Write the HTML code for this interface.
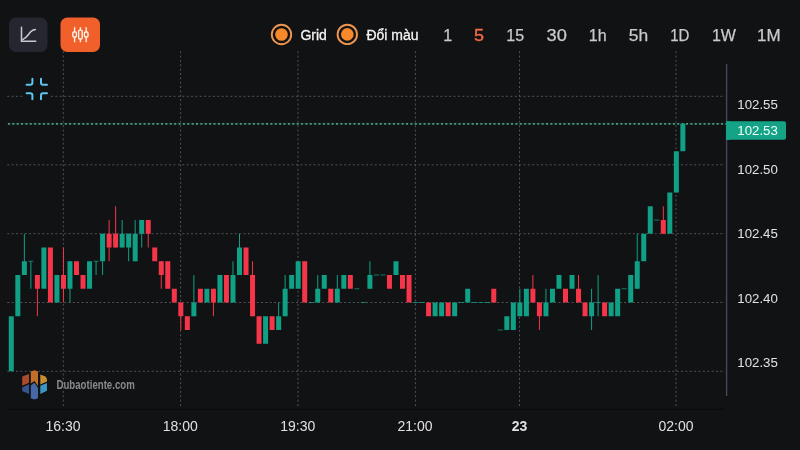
<!DOCTYPE html>
<html><head><meta charset="utf-8">
<style>
html,body{margin:0;padding:0;background:#111214;width:800px;height:450px;overflow:hidden;}
svg{position:absolute;left:0;top:0;will-change:transform;}
text{font-family:"Liberation Sans",sans-serif;}
</style></head>
<body>
<svg width="800" height="450" viewBox="0 0 800 450">
<!-- grid -->
<g stroke="#505258" stroke-width="1" stroke-dasharray="2 2.375" fill="none">
<line x1="7.25" y1="96.3" x2="725" y2="96.3" />
<line x1="7.25" y1="164.8" x2="725" y2="164.8" />
<line x1="7.25" y1="233.7" x2="725" y2="233.7" />
<line x1="7.25" y1="302.5" x2="725" y2="302.5" />
<line x1="7.25" y1="371.3" x2="725" y2="371.3" />
<line x1="63.3" y1="51.2" x2="63.3" y2="406" stroke-dasharray="2 2.355" />
<line x1="180.6" y1="51.2" x2="180.6" y2="406" stroke-dasharray="2 2.355" />
<line x1="298" y1="51.2" x2="298" y2="406" stroke-dasharray="2 2.355" />
<line x1="415.4" y1="51.2" x2="415.4" y2="406" stroke-dasharray="2 2.355" />
<line x1="519.5" y1="51.2" x2="519.5" y2="406" stroke-dasharray="2 2.355" />
<line x1="676" y1="51.2" x2="676" y2="406" stroke-dasharray="2 2.355" />
</g>
<!-- separator -->
<rect x="8" y="408.8" width="717" height="1" fill="#08090b"/>
<!-- axis line -->
<rect x="725.9" y="64" width="1.4" height="332" fill="#45455f"/>
<!-- price line -->
<rect x="8" y="122.6" width="718" height="2.4" fill="#0c241e"/>
<line x1="7.9" y1="123.8" x2="726" y2="123.8" stroke="#7dbfa8" stroke-width="1.2" stroke-dasharray="2 2.375"/>
<!-- candles -->
<g>
<rect x="8.80" y="316.25" width="5.0" height="55.00" fill="#0fa085"/>
<rect x="15.32" y="275.00" width="5.0" height="41.25" fill="#0fa085"/>
<rect x="23.84" y="233.75" width="1" height="41.25" fill="#0fa085"/>
<rect x="21.84" y="261.25" width="5.0" height="13.75" fill="#0fa085"/>
<rect x="30.36" y="261.25" width="1" height="27.50" fill="#0fa085"/>
<rect x="28.36" y="260.75" width="5.0" height="1" fill="#0fa085" opacity="0.75"/>
<rect x="36.88" y="275.00" width="1" height="41.25" fill="#f5364a"/>
<rect x="34.88" y="275.00" width="5.0" height="13.75" fill="#f5364a"/>
<rect x="41.40" y="247.50" width="5.0" height="41.25" fill="#0fa085"/>
<rect x="47.92" y="247.50" width="5.0" height="55.00" fill="#f5364a"/>
<rect x="54.44" y="275.00" width="5.0" height="27.50" fill="#0fa085"/>
<rect x="62.96" y="247.50" width="1" height="55.00" fill="#f5364a"/>
<rect x="60.96" y="275.00" width="5.0" height="13.75" fill="#f5364a"/>
<rect x="69.48" y="261.25" width="1" height="41.25" fill="#0fa085"/>
<rect x="67.48" y="261.25" width="5.0" height="27.50" fill="#0fa085"/>
<rect x="74.00" y="261.25" width="5.0" height="13.75" fill="#f5364a"/>
<rect x="80.52" y="275.00" width="5.0" height="13.75" fill="#f5364a"/>
<rect x="87.04" y="261.25" width="5.0" height="27.50" fill="#0fa085"/>
<rect x="95.56" y="261.25" width="1" height="13.75" fill="#0fa085"/>
<rect x="93.56" y="260.75" width="5.0" height="1" fill="#0fa085" opacity="0.75"/>
<rect x="102.08" y="233.75" width="1" height="41.25" fill="#0fa085"/>
<rect x="100.08" y="233.75" width="5.0" height="27.50" fill="#0fa085"/>
<rect x="108.60" y="220.00" width="1" height="41.25" fill="#f5364a"/>
<rect x="106.60" y="233.75" width="5.0" height="13.75" fill="#f5364a"/>
<rect x="115.12" y="206.25" width="1" height="41.25" fill="#f5364a"/>
<rect x="113.12" y="233.75" width="5.0" height="13.75" fill="#f5364a"/>
<rect x="121.64" y="220.00" width="1" height="27.50" fill="#0fa085"/>
<rect x="119.64" y="233.75" width="5.0" height="13.75" fill="#0fa085"/>
<rect x="128.16" y="233.75" width="1" height="27.50" fill="#0fa085"/>
<rect x="126.16" y="233.75" width="5.0" height="13.75" fill="#0fa085"/>
<rect x="134.68" y="220.00" width="1" height="41.25" fill="#0fa085"/>
<rect x="132.68" y="233.75" width="5.0" height="27.50" fill="#0fa085"/>
<rect x="141.20" y="220.00" width="1" height="27.50" fill="#0fa085"/>
<rect x="139.20" y="220.00" width="5.0" height="13.75" fill="#0fa085"/>
<rect x="147.72" y="220.00" width="1" height="27.50" fill="#f5364a"/>
<rect x="145.72" y="220.00" width="5.0" height="13.75" fill="#f5364a"/>
<rect x="152.24" y="247.50" width="5.0" height="13.75" fill="#f5364a"/>
<rect x="160.76" y="261.25" width="1" height="27.50" fill="#f5364a"/>
<rect x="158.76" y="261.25" width="5.0" height="13.75" fill="#f5364a"/>
<rect x="165.28" y="261.25" width="5.0" height="27.50" fill="#f5364a"/>
<rect x="171.80" y="288.75" width="5.0" height="13.75" fill="#f5364a"/>
<rect x="180.32" y="302.50" width="1" height="27.50" fill="#f5364a"/>
<rect x="178.32" y="302.50" width="5.0" height="13.75" fill="#f5364a"/>
<rect x="184.84" y="316.25" width="5.0" height="13.75" fill="#f5364a"/>
<rect x="193.36" y="275.00" width="1" height="41.25" fill="#0fa085"/>
<rect x="191.36" y="302.50" width="5.0" height="13.75" fill="#0fa085"/>
<rect x="197.88" y="288.75" width="5.0" height="13.75" fill="#f5364a"/>
<rect x="204.40" y="288.75" width="5.0" height="13.75" fill="#0fa085"/>
<rect x="212.92" y="288.75" width="1" height="27.50" fill="#f5364a"/>
<rect x="210.92" y="288.75" width="5.0" height="13.75" fill="#f5364a"/>
<rect x="217.44" y="275.00" width="5.0" height="27.50" fill="#0fa085"/>
<rect x="223.96" y="275.00" width="5.0" height="27.50" fill="#f5364a"/>
<rect x="232.48" y="261.25" width="1" height="41.25" fill="#0fa085"/>
<rect x="230.48" y="275.00" width="5.0" height="27.50" fill="#0fa085"/>
<rect x="239.00" y="233.75" width="1" height="41.25" fill="#0fa085"/>
<rect x="237.00" y="247.50" width="5.0" height="27.50" fill="#0fa085"/>
<rect x="243.52" y="247.50" width="5.0" height="27.50" fill="#f5364a"/>
<rect x="252.04" y="261.25" width="1" height="55.00" fill="#f5364a"/>
<rect x="250.04" y="275.00" width="5.0" height="41.25" fill="#f5364a"/>
<rect x="256.56" y="316.25" width="5.0" height="27.50" fill="#f5364a"/>
<rect x="263.08" y="316.25" width="5.0" height="27.50" fill="#0fa085"/>
<rect x="269.60" y="316.25" width="5.0" height="13.75" fill="#f5364a"/>
<rect x="278.12" y="302.50" width="1" height="27.50" fill="#0fa085"/>
<rect x="276.12" y="316.25" width="5.0" height="13.75" fill="#0fa085"/>
<rect x="284.64" y="275.00" width="1" height="41.25" fill="#0fa085"/>
<rect x="282.64" y="288.75" width="5.0" height="27.50" fill="#0fa085"/>
<rect x="289.16" y="275.00" width="5.0" height="13.75" fill="#0fa085"/>
<rect x="295.68" y="261.25" width="5.0" height="27.50" fill="#0fa085"/>
<rect x="302.20" y="261.25" width="5.0" height="41.25" fill="#f5364a"/>
<rect x="308.72" y="302.00" width="5.0" height="1" fill="#0fa085" opacity="0.75"/>
<rect x="317.24" y="275.00" width="1" height="27.50" fill="#0fa085"/>
<rect x="315.24" y="288.75" width="5.0" height="13.75" fill="#0fa085"/>
<rect x="321.76" y="275.00" width="5.0" height="13.75" fill="#0fa085"/>
<rect x="328.28" y="288.75" width="5.0" height="13.75" fill="#f5364a"/>
<rect x="336.80" y="275.00" width="1" height="27.50" fill="#0fa085"/>
<rect x="334.80" y="288.75" width="5.0" height="13.75" fill="#0fa085"/>
<rect x="341.32" y="275.00" width="5.0" height="13.75" fill="#0fa085"/>
<rect x="347.84" y="275.00" width="5.0" height="13.75" fill="#f5364a"/>
<rect x="354.36" y="288.25" width="5.0" height="1" fill="#0fa085" opacity="0.75"/>
<rect x="360.88" y="302.00" width="5.0" height="1" fill="#0fa085" opacity="0.75"/>
<rect x="369.40" y="261.25" width="1" height="27.50" fill="#0fa085"/>
<rect x="367.40" y="275.00" width="5.0" height="13.75" fill="#0fa085"/>
<rect x="373.92" y="274.50" width="5.0" height="1" fill="#0fa085" opacity="0.75"/>
<rect x="380.44" y="274.50" width="5.0" height="1" fill="#0fa085" opacity="0.75"/>
<rect x="386.96" y="275.00" width="5.0" height="13.75" fill="#f5364a"/>
<rect x="393.48" y="261.25" width="5.0" height="13.75" fill="#0fa085"/>
<rect x="400.00" y="275.00" width="5.0" height="13.75" fill="#f5364a"/>
<rect x="406.52" y="275.00" width="5.0" height="27.50" fill="#f5364a"/>
<rect x="413.04" y="302.00" width="5.0" height="1" fill="#0fa085" opacity="0.75"/>
<rect x="419.56" y="302.00" width="5.0" height="1" fill="#0fa085" opacity="0.75"/>
<rect x="426.08" y="302.50" width="5.0" height="13.75" fill="#f5364a"/>
<rect x="432.60" y="302.50" width="5.0" height="13.75" fill="#0fa085"/>
<rect x="439.12" y="302.50" width="5.0" height="13.75" fill="#0fa085"/>
<rect x="445.64" y="302.50" width="5.0" height="13.75" fill="#f5364a"/>
<rect x="452.16" y="302.50" width="5.0" height="13.75" fill="#0fa085"/>
<rect x="458.68" y="302.00" width="5.0" height="1" fill="#0fa085" opacity="0.75"/>
<rect x="465.20" y="288.75" width="5.0" height="13.75" fill="#0fa085"/>
<rect x="471.72" y="302.00" width="5.0" height="1" fill="#0fa085" opacity="0.75"/>
<rect x="478.24" y="302.00" width="5.0" height="1" fill="#0fa085" opacity="0.75"/>
<rect x="484.76" y="302.00" width="5.0" height="1" fill="#0fa085" opacity="0.75"/>
<rect x="491.28" y="288.75" width="5.0" height="13.75" fill="#f5364a"/>
<rect x="497.80" y="329.50" width="5.0" height="1" fill="#0fa085" opacity="0.75"/>
<rect x="504.32" y="316.25" width="5.0" height="13.75" fill="#0fa085"/>
<rect x="510.84" y="302.50" width="5.0" height="27.50" fill="#0fa085"/>
<rect x="519.36" y="288.75" width="1" height="27.50" fill="#0fa085"/>
<rect x="517.36" y="302.50" width="5.0" height="13.75" fill="#0fa085"/>
<rect x="523.88" y="288.75" width="5.0" height="27.50" fill="#0fa085"/>
<rect x="532.40" y="275.00" width="1" height="27.50" fill="#f5364a"/>
<rect x="530.40" y="288.75" width="5.0" height="13.75" fill="#f5364a"/>
<rect x="538.92" y="302.50" width="1" height="27.50" fill="#f5364a"/>
<rect x="536.92" y="302.50" width="5.0" height="13.75" fill="#f5364a"/>
<rect x="545.44" y="288.75" width="1" height="27.50" fill="#0fa085"/>
<rect x="543.44" y="302.50" width="5.0" height="13.75" fill="#0fa085"/>
<rect x="549.96" y="288.75" width="5.0" height="13.75" fill="#0fa085"/>
<rect x="556.48" y="275.00" width="5.0" height="13.75" fill="#0fa085"/>
<rect x="563.00" y="288.75" width="5.0" height="13.75" fill="#f5364a"/>
<rect x="569.52" y="275.00" width="5.0" height="13.75" fill="#0fa085"/>
<rect x="578.04" y="275.00" width="1" height="27.50" fill="#f5364a"/>
<rect x="576.04" y="288.75" width="5.0" height="13.75" fill="#f5364a"/>
<rect x="582.56" y="302.50" width="5.0" height="13.75" fill="#f5364a"/>
<rect x="591.08" y="288.75" width="1" height="41.25" fill="#0fa085"/>
<rect x="589.08" y="302.50" width="5.0" height="13.75" fill="#0fa085"/>
<rect x="597.60" y="275.00" width="1" height="41.25" fill="#0fa085"/>
<rect x="595.60" y="302.00" width="5.0" height="1" fill="#0fa085" opacity="0.75"/>
<rect x="602.12" y="302.50" width="5.0" height="13.75" fill="#f5364a"/>
<rect x="608.64" y="302.50" width="5.0" height="13.75" fill="#0fa085"/>
<rect x="615.16" y="288.75" width="5.0" height="27.50" fill="#0fa085"/>
<rect x="621.68" y="288.25" width="5.0" height="1" fill="#0fa085" opacity="0.75"/>
<rect x="628.20" y="275.00" width="5.0" height="27.50" fill="#0fa085"/>
<rect x="636.72" y="233.75" width="1" height="55.00" fill="#0fa085"/>
<rect x="634.72" y="261.25" width="5.0" height="27.50" fill="#0fa085"/>
<rect x="641.24" y="233.75" width="5.0" height="27.50" fill="#0fa085"/>
<rect x="647.76" y="206.25" width="5.0" height="27.50" fill="#0fa085"/>
<rect x="654.28" y="219.50" width="5.0" height="1" fill="#0fa085" opacity="0.75"/>
<rect x="662.80" y="206.25" width="1" height="27.50" fill="#f5364a"/>
<rect x="660.80" y="220.00" width="5.0" height="13.75" fill="#f5364a"/>
<rect x="667.32" y="192.50" width="5.0" height="41.25" fill="#0fa085"/>
<rect x="673.84" y="151.25" width="5.0" height="41.25" fill="#0fa085"/>
<rect x="680.36" y="123.75" width="5.0" height="27.50" fill="#0fa085"/>
</g>
<!-- current price box -->
<rect x="726" y="121.2" width="60" height="18.6" rx="2" fill="#14a386"/>
<rect x="726" y="121.2" width="4" height="18.6" fill="#14a386"/>
<text x="737.3" y="135.2" font-size="13.25" fill="#f2fff8">102.53</text>
<!-- price labels -->
<g font-size="13.25" fill="#e2e2e6">
<text x="737.3" y="109.3">102.55</text>
<text x="737.3" y="174">102.50</text>
<text x="737.3" y="238">102.45</text>
<text x="737.3" y="302.6">102.40</text>
<text x="737.3" y="367.4">102.35</text>
</g>
<!-- time labels -->
<g font-size="14" fill="#e0e0e4" text-anchor="middle">
<text x="63" y="430.8">16:30</text>
<text x="180.3" y="430.8">18:00</text>
<text x="297.7" y="430.8">19:30</text>
<text x="415" y="430.8">21:00</text>
<text x="519.5" y="430.8" font-weight="bold">23</text>
<text x="676" y="430.8">02:00</text>
</g>
<!-- toolbar buttons -->
<rect x="9" y="17.5" width="38.5" height="34.5" rx="7" fill="#25262f"/>
<g stroke="#c9c9d3" stroke-width="1.5" fill="none" stroke-linecap="round">
<path d="M21.5 27.3 V41.3 H35.7"/>
<path d="M22.6 39.6 C27 37.5 28 35 30.5 32 C32 30.2 33.5 29.6 35.4 29.5"/>
</g>
<rect x="60.5" y="17.5" width="39.5" height="34.5" rx="7" fill="#f15f2a"/>
<g stroke="#fff4ec" stroke-width="1.4" fill="none">
<path d="M74.6 27.3 V31.9 M74.6 37 V42.3"/>
<rect x="72.8" y="32" width="3.6" height="5" rx="1.2"/>
<path d="M80.4 27.3 V30.1 M80.4 39 V42.3"/>
<rect x="78.6" y="30.1" width="3.6" height="8.9" rx="1.2"/>
<path d="M86.2 27.3 V31.9 M86.2 37 V42.3"/>
<rect x="84.4" y="32" width="3.6" height="5" rx="1.2"/>
</g>
<!-- radios -->
<circle cx="281.5" cy="34.5" r="9.7" fill="none" stroke="#ee9550" stroke-width="1.9"/>
<circle cx="281.5" cy="34.5" r="6.3" fill="#f7892a"/>
<text x="300.4" y="39.8" font-size="14" fill="#f4f4f4" stroke="#f4f4f4" stroke-width="0.3">Grid</text>
<circle cx="347.3" cy="34.4" r="9.7" fill="none" stroke="#ee9550" stroke-width="1.9"/>
<circle cx="347.3" cy="34.4" r="6.3" fill="#f7892a"/>
<text x="366.4" y="39.8" font-size="14" fill="#f4f4f4" stroke="#f4f4f4" stroke-width="0.3">Đổi màu</text>
<!-- timeframes -->
<g font-size="16" fill="#cacace" stroke="#cacace" stroke-width="0.25" text-anchor="middle">
<text x="447.6" y="40.9">1</text>
<text x="479.1" y="40.9" fill="#f26a45" stroke="#f26a45" stroke-width="0.4" textLength="10" lengthAdjust="spacingAndGlyphs">5</text>
<text x="515.15" y="40.9">15</text>
<text x="556.75" y="40.9" textLength="20.3" lengthAdjust="spacingAndGlyphs">30</text>
<text x="597.75" y="40.9">1h</text>
<text x="638.4" y="40.9" textLength="19.4" lengthAdjust="spacingAndGlyphs">5h</text>
<text x="679.75" y="40.9" textLength="19.2" lengthAdjust="spacingAndGlyphs">1D</text>
<text x="723.95" y="40.9">1W</text>
<text x="768.75" y="40.9" textLength="23.6" lengthAdjust="spacingAndGlyphs">1M</text>
</g>
<!-- compress icon -->
<rect x="24" y="76" width="25.5" height="26" fill="#111214"/>
<g stroke="#5ec6ee" stroke-width="2" fill="none" stroke-linecap="round" stroke-linejoin="round">
<path d="M32.4 78.8 V82.8 Q32.4 84.8 30.4 84.8 H26.6"/>
<path d="M41 78.8 V82.8 Q41 84.8 43 84.8 H47"/>
<path d="M26.6 93.3 H30.4 Q32.4 93.3 32.4 95.3 V99.2"/>
<path d="M47 93.3 H43 Q41 93.3 41 95.3 V99.2"/>
</g>
<!-- logo -->
<g>
<polygon points="22.2,376.6 29,374 29,382.7 22.2,385.7" fill="#aa4b2d"/>
<polygon points="30.8,371.5 34.4,370.2 38,371.5 38,386 34.5,381 30.8,383.5" fill="#c36e28"/>
<polygon points="40.3,374.4 45.5,376.5 47,379 47,381.6 40.3,384.4" fill="#c88c32"/>
<polygon points="22.2,387.6 29,384.2 29,394 22.2,391" fill="#375591"/>
<polygon points="30.8,385.5 34.3,382.8 38,387.8 38,398.2 34.4,399.5 30.8,398.2" fill="#4669a5"/>
<polygon points="40.3,385.8 47,382.9 47,390.7 40.3,394" fill="#3c96c3"/>
</g>
<text x="56.5" y="388.9" font-size="12" font-weight="bold" fill="#8a8a8c" textLength="78.2" lengthAdjust="spacingAndGlyphs">Dubaotiente.com</text>
</svg>
</body></html>
